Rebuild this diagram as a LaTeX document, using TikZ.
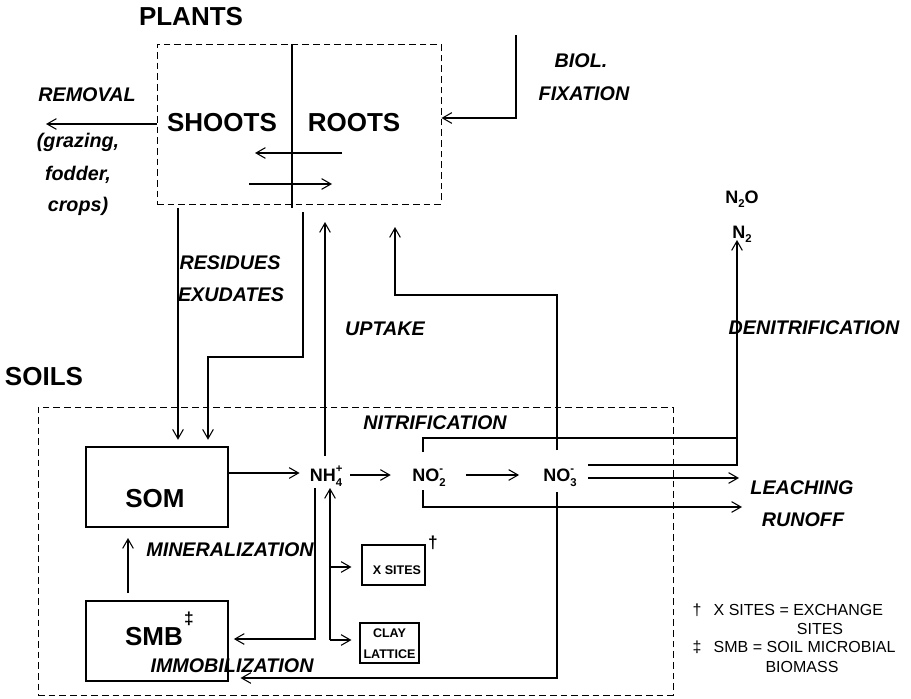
\documentclass[tikz,border=0pt]{standalone}
\usepackage{fontspec}
\setmainfont{Liberation Sans}
\usetikzlibrary{arrows.meta}
\newcommand\chemsup[2]{\makebox[0pt][l]{\raisebox{6.5pt}{\fontsize{8.5}{8.5}\selectfont #1}}\raisebox{-4pt}{\fontsize{8.5}{8.5}\selectfont #2}}
\begin{document}
\begin{tikzpicture}[x=0.75pt,y=-0.75pt,
 ln/.style={line width=0.8pt},
 arr/.style={line width=0.8pt,-{Straight Barb[length=7pt,width=8pt]}},
 dbox/.style={draw,dash pattern=on 5pt off 3pt,line width=0.7pt,inner sep=0pt},
 sbox/.style={draw,line width=0.8pt,inner sep=0pt},
 ttl/.style={font=\fontsize{19.5}{22}\selectfont\bfseries},
 big/.style={font=\fontsize{19.5}{22}\selectfont\bfseries},
 lab/.style={font=\fontsize{14.8}{16}\selectfont\bfseries\itshape},
 chem/.style={font=\fontsize{13.5}{16}\selectfont\bfseries,inner sep=0pt,anchor=base},
 tinyt/.style={font=\fontsize{9.4}{15.5}\selectfont\bfseries,align=center},
 foot/.style={font=\fontsize{12}{14}\selectfont},
 symb/.style={font=\fontsize{13}{14}\selectfont\bfseries}
]
\useasboundingbox (0,0) rectangle (911,699);

% ---------- boxes ----------
\node[dbox,minimum width=213pt,minimum height=120pt] (plants) at (299,124) {};
\node[dbox,minimum width=476.25pt,minimum height=216pt] (soils) at (355.5,551) {};
\node[sbox,minimum width=106.5pt,minimum height=60pt] (som) at (157,487) {};
\node[sbox,minimum width=106.5pt,minimum height=60pt] (smb) at (157,641) {};
\node[sbox,minimum width=47.25pt,minimum height=30pt] (xs) at (393.5,565) {};
\node[sbox,minimum width=44.25pt,minimum height=30pt] (clay) at (389.5,643) {};

% ---------- titles and box texts ----------
\node[ttl] (tplants) at (191,17) {PLANTS};
\node[ttl] (tsoils) at (44,377) {SOILS};
\node[big] (shoots) at (222,123) {SHOOTS};
\node[big] (roots) at (354,123) {ROOTS};
\node[big] (somt) at (155,499) {SOM};
\node[big] (smbt) at (154,637) {SMB};
\node[symb] (ddag) at (189,619) {‡};
\node[tinyt] (xst) at (397,570) {X SITES};
\node[symb] (dag) at (433,543) {†};
\node[tinyt] (clayt) at (389.5,644) {CLAY\\LATTICE};

% ---------- chemical species ----------
\node[chem] (nh4) at (326,481) {NH\chemsup{+}{4}};
\node[chem] (no2) at (429,481) {NO\chemsup{-}{2}};
\node[chem] (no3) at (560,481) {NO\chemsup{-}{3}};
\node[chem] (n2o) at (742,203) {N\raisebox{-3pt}{\fontsize{8.5}{8.5}\selectfont 2}O};
\node[chem] (n2) at (742,238) {N\raisebox{-3pt}{\fontsize{8.5}{8.5}\selectfont 2}};

% ---------- process labels ----------
\node[lab] (removal) at (87,95) {REMOVAL};
\node[lab] (graz) at (78,142) {(grazing,};
\node[lab] (fodd) at (78,175) {fodder,};
\node[lab] (crop) at (78,206) {crops)};
\node[lab] (biol) at (581,61) {BIOL.};
\node[lab] (fix) at (584,94) {FIXATION};
\node[lab] (resid) at (230,263) {RESIDUES};
\node[lab] (exud) at (231,295) {EXUDATES};
\node[lab] (uptake) at (385,329) {UPTAKE};
\node[lab] (denit) at (814,328) {DENITRIFICATION};
\node[lab] (nitri) at (435,423) {NITRIFICATION};
\node[lab] (miner) at (230,550) {MINERALIZATION};
\node[lab] (immob) at (232,666) {IMMOBILIZATION};
\node[lab] (leach) at (802,488) {LEACHING};
\node[lab] (runoff) at (803,520) {RUNOFF};

% ---------- footnotes ----------
\node[foot] (f1m) at (697,610) {†};
\node[foot,anchor=west] (f1) at (709,610) {X SITES = EXCHANGE};
\node[foot] (f1b) at (820,629) {SITES};
\node[foot] (f2m) at (697,647) {‡};
\node[foot,anchor=west] (f2) at (709,647) {SMB = SOIL MICROBIAL};
\node[foot] (f2b) at (802,667) {BIOMASS};

% ---------- coordinates ----------
\coordinate (divtop) at (292,44);
\coordinate (divbot) at (292,208);
\coordinate (remend) at (46,124);
\coordinate (rs1) at (342,153);
\coordinate (rs2) at (255,153);
\coordinate (sr1) at (249,184);
\coordinate (sr2) at (332,184);
\coordinate (fixtop) at (516,35);
\coordinate (fixbend) at (516,118);
\coordinate (res1) at (178,208);
\coordinate (ex1) at (303,212);
\coordinate (ex2) at (303,357);
\coordinate (ex3) at (208,357);
\coordinate (up1a) at (325,456);
\coordinate (up1) at (325,222);
\coordinate (up2a) at (557,450);
\coordinate (up2b) at (557,295);
\coordinate (up2) at (395,227);
\coordinate (row) at (0,475);
\coordinate (so1) at (228,473);
\coordinate (dn1) at (423,452);
\coordinate (dn2) at (423,438);
\coordinate (dn) at (737,240);
\coordinate (dn3) at (588,465);
\coordinate (le1) at (588,478);
\coordinate (le2) at (739,478);
\coordinate (ro1) at (423,490);
\coordinate (ro2) at (423,507);
\coordinate (ro3) at (742,507);
\coordinate (im1) at (557,492);
\coordinate (im2) at (557,678);
\coordinate (nh1) at (315,488);
\coordinate (nh2) at (315,639);
\coordinate (ex4) at (330,640);
\coordinate (ex5) at (330,488);
\coordinate (xsb) at (330,567);
\coordinate (mn1) at (128,593);
\coordinate (mn2) at (128,538);

% ---------- plants internals ----------
\draw[ln] (divtop) -- (divbot);
\draw[arr] (rs1) -- (rs2);
\draw[arr] (sr1) -- (sr2);
\draw[arr] (plants.west) -- (remend);
\draw[arr] (fixtop) -- (fixbend) -- (plants.east |- fixbend);

% ---------- residues / exudates ----------
\draw[arr,shorten >=5pt] (res1) -- (som.north -| res1);
\draw[arr,shorten >=5pt] (ex1) -- (ex2) -- (ex3) -- (som.north -| ex3);

% ---------- uptake ----------
\draw[arr] (up1a) -- (up1);
\draw[arr] (up2a) -- (up2b) -- (up2 |- up2b) -- (up2);

% ---------- soil chain ----------
\draw[arr,shorten >=7.5pt] (so1) -- (nh4.west |- so1);
\draw[arr,shorten <=6pt,shorten >=16pt] (nh4.east |- row) -- (no2.west |- row);
\draw[arr,shorten <=15pt,shorten >=18pt] (no2.east |- row) -- (no3.west |- row);

% ---------- denitrification, leaching, runoff ----------
\draw[ln] (dn1) -- (dn2) -- (dn |- dn2);
\draw[arr] (dn3) -| (dn);
\draw[arr] (le1) -- (le2);
\draw[arr] (ro1) -- (ro2) -- (ro3);

% ---------- immobilization ----------
\draw[arr,shorten >=9pt] (im1) -- (im2) -- (smb.east |- im2);
\draw[arr,shorten >=4pt] (nh1) -- (nh2) -- (smb.east |- nh2);

% ---------- exchange / fixation in clay ----------
\draw[arr] (ex4) -- (ex5);
\draw[arr,shorten >=7.5pt] (xsb) -- (xs.west |- xsb);
\draw[arr,shorten >=6pt] (ex4) -- (clay.west |- ex4);

% ---------- mineralization ----------
\draw[arr] (mn1) -- (mn2);
\end{tikzpicture}
\end{document}
